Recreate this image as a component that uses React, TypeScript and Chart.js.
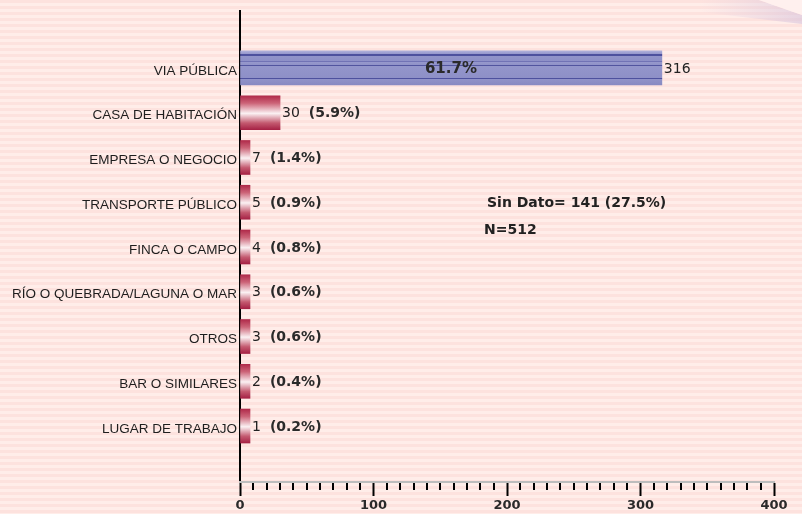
import React, { useEffect, useRef } from "react";
import { Chart, registerables } from "chart.js";

Chart.register(...registerables);

const categories = [
  "VIA PÚBLICA",
  "CASA DE HABITACIÓN",
  "EMPRESA O NEGOCIO",
  "TRANSPORTE PÚBLICO",
  "FINCA O CAMPO",
  "RÍO O QUEBRADA/LAGUNA O MAR",
  "OTROS",
  "BAR O SIMILARES",
  "LUGAR DE TRABAJO",
];
const counts = [316, 30, 7, 5, 4, 3, 3, 2, 1];
const percents = ["61.7%", "5.9%", "1.4%", "0.9%", "0.8%", "0.6%", "0.6%", "0.4%", "0.2%"];
const majorTicks = [0, 100, 200, 300, 400];
const minorStep = 10;
const notes = ["Sin Dato= 141 (27.5%)", "N=512"];

function barFill(ctx: any) {
  const chart = ctx.chart;
  const ys = chart.scales && chart.scales.y;
  if (!ys || ctx.type !== "data") return "#B8324F";
  const cy = ys.getPixelForValue(ctx.dataIndex);
  if (!isFinite(cy)) return ctx.dataIndex === 0 ? "#8E8FC6" : "#B8324F";
  const top = cy - 17;
  const bot = cy + 17;
  const g = chart.ctx.createLinearGradient(0, top, 0, bot);
  if (ctx.dataIndex === 0) {
    g.addColorStop(0, "#B0B1DA");
    g.addColorStop(0.06, "#9C9DD0");
    g.addColorStop(0.1, "#9496CB");
    g.addColorStop(0.1, "#4E519E");
    g.addColorStop(0.14, "#4E519E");
    g.addColorStop(0.14, "#9294CA");
    g.addColorStop(0.3, "#8E90C7");
    g.addColorStop(0.3, "#7173B5");
    g.addColorStop(0.33, "#7173B5");
    g.addColorStop(0.33, "#9698CC");
    g.addColorStop(0.41, "#9092C8");
    g.addColorStop(0.41, "#52559F");
    g.addColorStop(0.45, "#52559F");
    g.addColorStop(0.45, "#9496CB");
    g.addColorStop(0.79, "#8E90C7");
    g.addColorStop(0.79, "#4E519E");
    g.addColorStop(0.83, "#4E519E");
    g.addColorStop(0.83, "#9092C8");
    g.addColorStop(1, "#888AC2");
  } else {
    g.addColorStop(0, "#B02A4A");
    g.addColorStop(0.22, "#CC6478");
    g.addColorStop(0.52, "#FBF1F3");
    g.addColorStop(0.8, "#C45A70");
    g.addColorStop(1, "#A62245");
  }
  return g;
}

const backgroundPlugin = {
  id: "bgStripes",
  beforeDraw(chart: any) {
    const { ctx, width, height } = chart;
    ctx.save();
    ctx.fillStyle = "#FFEDE9";
    ctx.fillRect(0, 0, width, height);
    ctx.fillStyle = "#FDE2DE";
    for (let y = 0; y < height; y += 6) {
      ctx.fillRect(0, y, width, 3);
    }
    // page curl at top right
    const g = ctx.createLinearGradient(700, 0, 802, 0);
    g.addColorStop(0, "rgba(225,205,225,0)");
    g.addColorStop(1, "rgba(215,195,220,0.6)");
    ctx.fillStyle = g;
    ctx.beginPath();
    ctx.moveTo(700, 0);
    ctx.lineTo(759, 0);
    ctx.lineTo(802, 15);
    ctx.lineTo(802, 24);
    ctx.lineTo(700, 12);
    ctx.closePath();
    ctx.fill();
    ctx.fillStyle = "#FFF0EE";
    ctx.beginPath();
    ctx.moveTo(759, 0);
    ctx.lineTo(802, 0);
    ctx.lineTo(802, 15);
    ctx.closePath();
    ctx.fill();
    ctx.restore();
  },
};

const minorTickPlugin = {
  id: "minorTicks",
  afterDraw(chart: any) {
    const { ctx, chartArea } = chart;
    const xs = chart.scales.x;
    ctx.save();
    ctx.strokeStyle = "#000";
    ctx.lineWidth = 2;
    ctx.beginPath();
    for (let v = xs.min; v <= xs.max; v += minorStep) {
      if (majorTicks.includes(v)) continue;
      const px = Math.round(xs.getPixelForValue(v));
      ctx.moveTo(px, chartArea.bottom + 1);
      ctx.lineTo(px, chartArea.bottom + 8);
    }
    ctx.stroke();
    ctx.restore();
  },
};

const labelPlugin = {
  id: "barLabels",
  afterDatasetsDraw(chart: any) {
    const { ctx } = chart;
    const meta = chart.getDatasetMeta(0);
    const base = chart.scales.x.getPixelForValue(0);
    ctx.save();
    ctx.textBaseline = "middle";
    meta.data.forEach((el: any, i: number) => {
      const { x, y } = el.getProps(["x", "y"], true);
      const num = String(counts[i]);
      ctx.font = '14px "DejaVu Sans"';
      ctx.fillStyle = "#222";
      ctx.textAlign = "left";
      ctx.fillText(num, x + 2, y + 1);
      const w = ctx.measureText(num).width;
      if (i === 0) {
        ctx.font = 'bold 15px "DejaVu Sans"';
        ctx.textAlign = "center";
        ctx.fillStyle = "#2a2a2a";
        ctx.fillText(percents[i], (base + x) / 2, y + 1);
      } else {
        ctx.font = 'bold 14px "DejaVu Sans"';
        ctx.fillStyle = "#2a2a2a";
        ctx.fillText("(" + percents[i] + ")", x + 2 + w + 9, y + 1);
      }
    });
    ctx.font = 'bold 14px "DejaVu Sans"';
    ctx.fillStyle = "#222";
    ctx.textAlign = "left";
    ctx.fillText(notes[0], 487, 203);
    ctx.fillText(notes[1], 484, 230);
    ctx.restore();
  },
};

export default function App() {
  const ref = useRef<HTMLCanvasElement>(null);

  useEffect(() => {
    if (!ref.current) return;
    const chart = new Chart(ref.current, {
      type: "bar",
      data: {
        labels: categories,
        datasets: [
          {
            data: counts.map((c, i) => ({ x: c, y: i })) as any,
            backgroundColor: barFill as any,
            borderWidth: 0,
            barThickness: 34,
            minBarLength: 10,
          },
        ],
      },
      options: {
        indexAxis: "y",
        responsive: false,
        animation: false,
        devicePixelRatio: 1,
        layout: { padding: { top: 7, right: 28, left: 0, bottom: 0 } },
        plugins: { legend: { display: false }, tooltip: { enabled: false } },
        scales: {
          y: {
            type: "linear",
            reverse: true,
            offset: false,
            bounds: "data",
            min: -1.27,
            max: 9.25,
            afterBuildTicks: (s: any) => {
              s.ticks = categories.map((_, i) => ({ value: i }));
            },
            afterFit: (s: any) => {
              s.width = 240;
            },
            ticks: {
              autoSkip: false,
              callback: (v: any) => categories[v as number] ?? "",
              font: { family: "Liberation Sans", size: 13.5 },
              color: "#1e1e1e",
              padding: 3,
              labelOffset: 3,
            } as any,
            grid: { display: false, drawTicks: false, offset: false },
            border: { display: true, color: "#000", width: 2 },
          },
          x: {
            type: "linear",
            min: majorTicks[0],
            max: majorTicks[majorTicks.length - 1],
            afterBuildTicks: (s: any) => {
              s.ticks = majorTicks.map((v) => ({ value: v }));
            },
            afterFit: (s: any) => {
              s.height = 32;
            },
            ticks: {
              autoSkip: false,
              maxRotation: 0,
              font: { family: "DejaVu Sans", size: 13, weight: "bold" },
              color: "#2a2a2a",
              padding: 2,
            },
            grid: {
              drawOnChartArea: false,
              drawTicks: true,
              tickLength: 14,
              tickWidth: 2,
              tickColor: "#000",
            },
            border: { display: true, color: "#BDBDBD", width: 2 },
          },
        },
      },
      plugins: [backgroundPlugin, minorTickPlugin, labelPlugin],
    });
    chart.update();
    return () => chart.destroy();
  }, []);

  return (
    <div style={{ position: "fixed", left: 0, top: 0, width: 802, height: 514 }}>
      <canvas ref={ref} width={802} height={514} style={{ display: "block" }} />
    </div>
  );
}
